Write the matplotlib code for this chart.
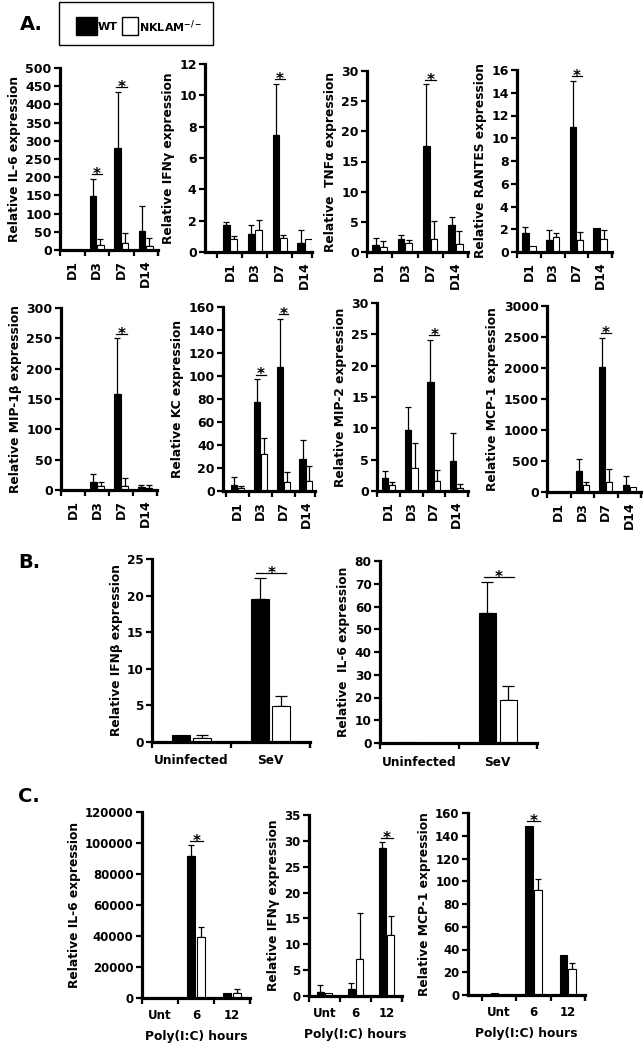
import matplotlib
matplotlib.use("Agg")
import matplotlib.pyplot as plt
import numpy as np
from matplotlib.patches import Rectangle

plt.rcParams['font.family'] = ['DejaVu Sans']
plt.rcParams['font.weight'] = 'bold'

W, H = 643, 1048

# ---- data (bar heights and top of error whisker) ----
days = ['D1', 'D3', 'D7', 'D14']
infection = ['Uninfected', 'SeV']
hours = ['Unt', '6', '12']

# panel A, top row
il6_wt = [0, 147, 280, 52]
il6_wt_hi = [0, 195, 435, 120]
il6_ko = [0, 15, 18, 12]
il6_ko_hi = [0, 29, 48, 32]

ifng_wt = [1.7, 1.17, 7.48, 0.6]
ifng_wt_hi = [1.92, 1.7, 10.75, 1.43]
ifng_ko = [0.85, 1.43, 0.92, 0.8]
ifng_ko_hi = [1.03, 2.07, 1.1, 0.8]

tnfa_wt = [1.2, 2.2, 17.6, 4.4]
tnfa_wt_hi = [2.4, 2.8, 27.8, 5.8]
tnfa_ko = [0.83, 1.55, 2.2, 1.4]
tnfa_ko_hi = [1.8, 2.05, 5.15, 3.4]

rantes_wt = [1.7, 1.03, 11.0, 2.14]
rantes_wt_hi = [2.2, 1.9, 15.06, 2.14]
rantes_ko = [0.53, 1.32, 1.03, 1.12]
rantes_ko_hi = [0.53, 1.67, 1.76, 1.97]

# panel A, bottom row
mip1b_wt = [0, 13.7, 159, 4.4]
mip1b_wt_hi = [0, 25.8, 250, 8.8]
mip1b_ko = [0, 7, 7, 2.7]
mip1b_ko_hi = [0, 13.7, 19, 7.7]

kc_wt = [5.2, 77.5, 108, 27.8]
kc_wt_hi = [11.9, 97.2, 150, 44.3]
kc_ko = [2.3, 32, 8.1, 9]
kc_ko_hi = [4.6, 45.7, 16.2, 21.7]

mip2_wt = [2.1, 9.7, 17.35, 4.75]
mip2_wt_hi = [3.15, 13.45, 24.1, 9.3]
mip2_ko = [0.9, 3.6, 1.65, 0.5]
mip2_ko_hi = [1.44, 7.6, 3.3, 1.07]

mcp1_wt = [0, 333, 2013, 118]
mcp1_wt_hi = [0, 537, 2490, 252]
mcp1_ko = [0, 118, 156, 75]
mcp1_ko_hi = [0, 156, 370, 75]

# panel B
ifnb_wt = [0.9, 19.5]
ifnb_wt_hi = [0.9, 22.4]
ifnb_ko = [0.5, 4.9]
ifnb_ko_hi = [1.0, 6.3]

il6b_wt = [0.6, 57.3]
il6b_wt_hi = [0.6, 70.8]
il6b_ko = [0, 18.8]
il6b_ko_hi = [0, 25]

# panel C
il6c_wt = [0, 91600, 3200]
il6c_wt_hi = [0, 98500, 3200]
il6c_ko = [0, 39400, 3000]
il6c_ko_hi = [0, 45800, 5800]

ifngc_wt = [0.84, 1.35, 28.6]
ifngc_wt_hi = [2.1, 2.6, 29.7]
ifngc_ko = [0.64, 7.2, 11.8]
ifngc_ko_hi = [0.64, 16, 15.5]

mcp1c_wt = [1.5, 148.9, 35.2]
mcp1c_wt_hi = [1.5, 148.9, 35.2]
mcp1c_ko = [0, 91.9, 22.9]
mcp1c_ko_hi = [0, 102, 27.9]

STYLE = {
    'A': dict(width=0.27, off=0.15, cap=2.5, rot=90, pad=7, tsize=9.0),
    'B': dict(width=0.22, off=0.135, cap=4.5, rot=0, pad=9, tsize=8.7),
    'C': dict(width=0.22, off=0.13, cap=2.5, rot=0, pad=8, tsize=8.5),
}


def px_axes(fig, l, t, r, b):
    return fig.add_axes([l / W, 1 - b / H, (r - l) / W, (b - t) / H])


def whiskers(ax, x, val, hi, cap):
    val = np.asarray(val, float)
    hi = np.asarray(hi, float)
    m = hi > val
    if m.any():
        ax.errorbar(np.asarray(x)[m], val[m], yerr=[np.zeros(m.sum()), (hi - val)[m]],
                    fmt='none', ecolor='black', elinewidth=0.9, capsize=cap,
                    capthick=0.9, zorder=2)


def draw_panel(ax, cats, wt, wt_hi, ko, ko_hi, ymax, ystep, ylabel, stars,
               kind, xlim=None, xlabel=None):
    st = STYLE[kind]
    n = len(cats)
    x = np.arange(n)
    w, off = st['width'], st['off']
    ax.bar(x - off, wt, w, color='black', edgecolor='black', linewidth=0.8, zorder=3)
    ax.bar(x + off, ko, w, color='white', edgecolor='black', linewidth=0.8, zorder=3)
    whiskers(ax, x - off, wt, wt_hi, st['cap'])
    whiskers(ax, x + off, ko, ko_hi, st['cap'])

    # significance bar + star
    for i in stars:
        top = max(wt_hi[i], ko_hi[i], wt[i], ko[i])
        yl = top + 0.025 * ymax
        ax.plot([i - off - w * 0.2, i + off + w * 0.3], [yl, yl], color='black',
                lw=0.9, clip_on=False, zorder=4)
        ax.annotate('*', (i + 0.05 * w, yl), xytext=(0, -3.5), textcoords='offset points',
                    ha='center', va='baseline', fontsize=11, fontweight='bold',
                    annotation_clip=False)

    if xlim is None:
        xlim = (-0.5, n - 0.5)
    ax.set_xlim(*xlim)
    ax.set_ylim(0, ymax)
    ax.set_yticks(np.arange(0, ymax + ystep / 2, ystep))
    ax.set_xticks(x)
    ax.set_xticklabels(cats, rotation=st['rot'], fontsize=st['tsize'])
    bounds = [b for b in np.arange(-0.5, n, 1.0) if xlim[0] <= b <= xlim[1]]
    bounds.append(xlim[1])
    ax.set_xticks(bounds, minor=True)
    ax.tick_params(axis='x', which='major', length=0, pad=st['pad'])
    ax.tick_params(axis='x', which='minor', length=4, width=1.6, direction='out')
    ax.tick_params(axis='y', length=4, width=1.6, direction='out', labelsize=st['tsize'], pad=2)
    for s in ('top', 'right'):
        ax.spines[s].set_visible(False)
    for s in ('left', 'bottom'):
        ax.spines[s].set_linewidth(2.3)
        ax.spines[s].set_zorder(5)
    ax.set_ylabel(ylabel, fontsize=8.8, fontweight='bold', labelpad=3)
    if xlabel:
        ax.set_xlabel(xlabel, fontsize=8.8, fontweight='bold', labelpad=6)
    ax.patch.set_alpha(0)


fig = plt.figure(figsize=(W / 100, H / 100), dpi=100)

# background axes in pixel coordinates for letters and legend
bg = fig.add_axes([0, 0, 1, 1])
bg.set_xlim(0, W)
bg.set_ylim(H, 0)
bg.axis('off')
bg.add_patch(Rectangle((59, 2), 154, 43, facecolor='white', edgecolor='black', lw=1))
bg.add_patch(Rectangle((76, 17), 21, 18, facecolor='black', edgecolor='black', lw=1))
bg.text(98, 27, 'WT', fontsize=8, fontweight='bold', va='center', ha='left')
bg.add_patch(Rectangle((122, 17), 16, 18, facecolor='white', edgecolor='black', lw=1))
bg.text(139, 27, r'NKLAM$^{\mathbf{-/-}}$', fontsize=8, fontweight='bold', va='center', ha='left')
for letter, (lx, ly) in {'A.': (20, 25), 'B.': (18, 563), 'C.': (18, 797)}.items():
    bg.text(lx, ly, letter, fontsize=14, fontweight='bold', va='center', ha='left')

# panel A top row
draw_panel(px_axes(fig, 60, 68, 158, 250), days, il6_wt, il6_wt_hi, il6_ko, il6_ko_hi,
           500, 50, 'Relative IL-6 expression', [1, 2], 'A')
draw_panel(px_axes(fig, 205, 64, 312, 252), days, ifng_wt, ifng_wt_hi, ifng_ko, ifng_ko_hi,
           12, 2, 'Relative IFNγ expression', [2], 'A', xlim=(-1.0, 3.3))
draw_panel(px_axes(fig, 367, 71, 468, 252), days, tnfa_wt, tnfa_wt_hi, tnfa_ko, tnfa_ko_hi,
           30, 5, 'Relative  TNFα expression', [2], 'A')
draw_panel(px_axes(fig, 517, 70, 612, 252), days, rantes_wt, rantes_wt_hi, rantes_ko, rantes_ko_hi,
           16, 2, 'Relative RANTES expression', [2], 'A')

# panel A bottom row
draw_panel(px_axes(fig, 61, 308, 157, 490), days, mip1b_wt, mip1b_wt_hi, mip1b_ko, mip1b_ko_hi,
           300, 50, 'Relative MIP-1β expression', [2], 'A')
draw_panel(px_axes(fig, 223, 307, 315, 491), days, kc_wt, kc_wt_hi, kc_ko, kc_ko_hi,
           160, 20, 'Relative KC expression', [1, 2], 'A', xlim=(-0.65, 3.4))
draw_panel(px_axes(fig, 377, 303, 468, 491), days, mip2_wt, mip2_wt_hi, mip2_ko, mip2_ko_hi,
           30, 5, 'Relative MIP-2 expression', [2], 'A')
draw_panel(px_axes(fig, 547, 306, 641, 492), days, mcp1_wt, mcp1_wt_hi, mcp1_ko, mcp1_ko_hi,
           3000, 500, 'Relative MCP-1 expression', [2], 'A')

# panel B
draw_panel(px_axes(fig, 152, 559, 310, 742), infection, ifnb_wt, ifnb_wt_hi, ifnb_ko, ifnb_ko_hi,
           25, 5, 'Relative IFNβ expression', [1], 'B')
draw_panel(px_axes(fig, 380, 561, 537, 743), infection, il6b_wt, il6b_wt_hi, il6b_ko, il6b_ko_hi,
           80, 10, 'Relative  IL-6 expression', [1], 'B')

# panel C
draw_panel(px_axes(fig, 142, 812, 250, 998), hours, il6c_wt, il6c_wt_hi, il6c_ko, il6c_ko_hi,
           120000, 20000, 'Relative IL-6 expression', [1], 'C', xlabel='Poly(I:C) hours')
draw_panel(px_axes(fig, 309, 815, 402, 996), hours, ifngc_wt, ifngc_wt_hi, ifngc_ko, ifngc_ko_hi,
           35, 5, 'Relative IFNγ expression', [2], 'C', xlabel='Poly(I:C) hours')
draw_panel(px_axes(fig, 468, 813, 585, 995), hours, mcp1c_wt, mcp1c_wt_hi, mcp1c_ko, mcp1c_ko_hi,
           160, 20, 'Relative MCP-1 expression', [1], 'C', xlim=(-0.9, 2.5),
           xlabel='Poly(I:C) hours')

fig.savefig('out.png', dpi=100)
